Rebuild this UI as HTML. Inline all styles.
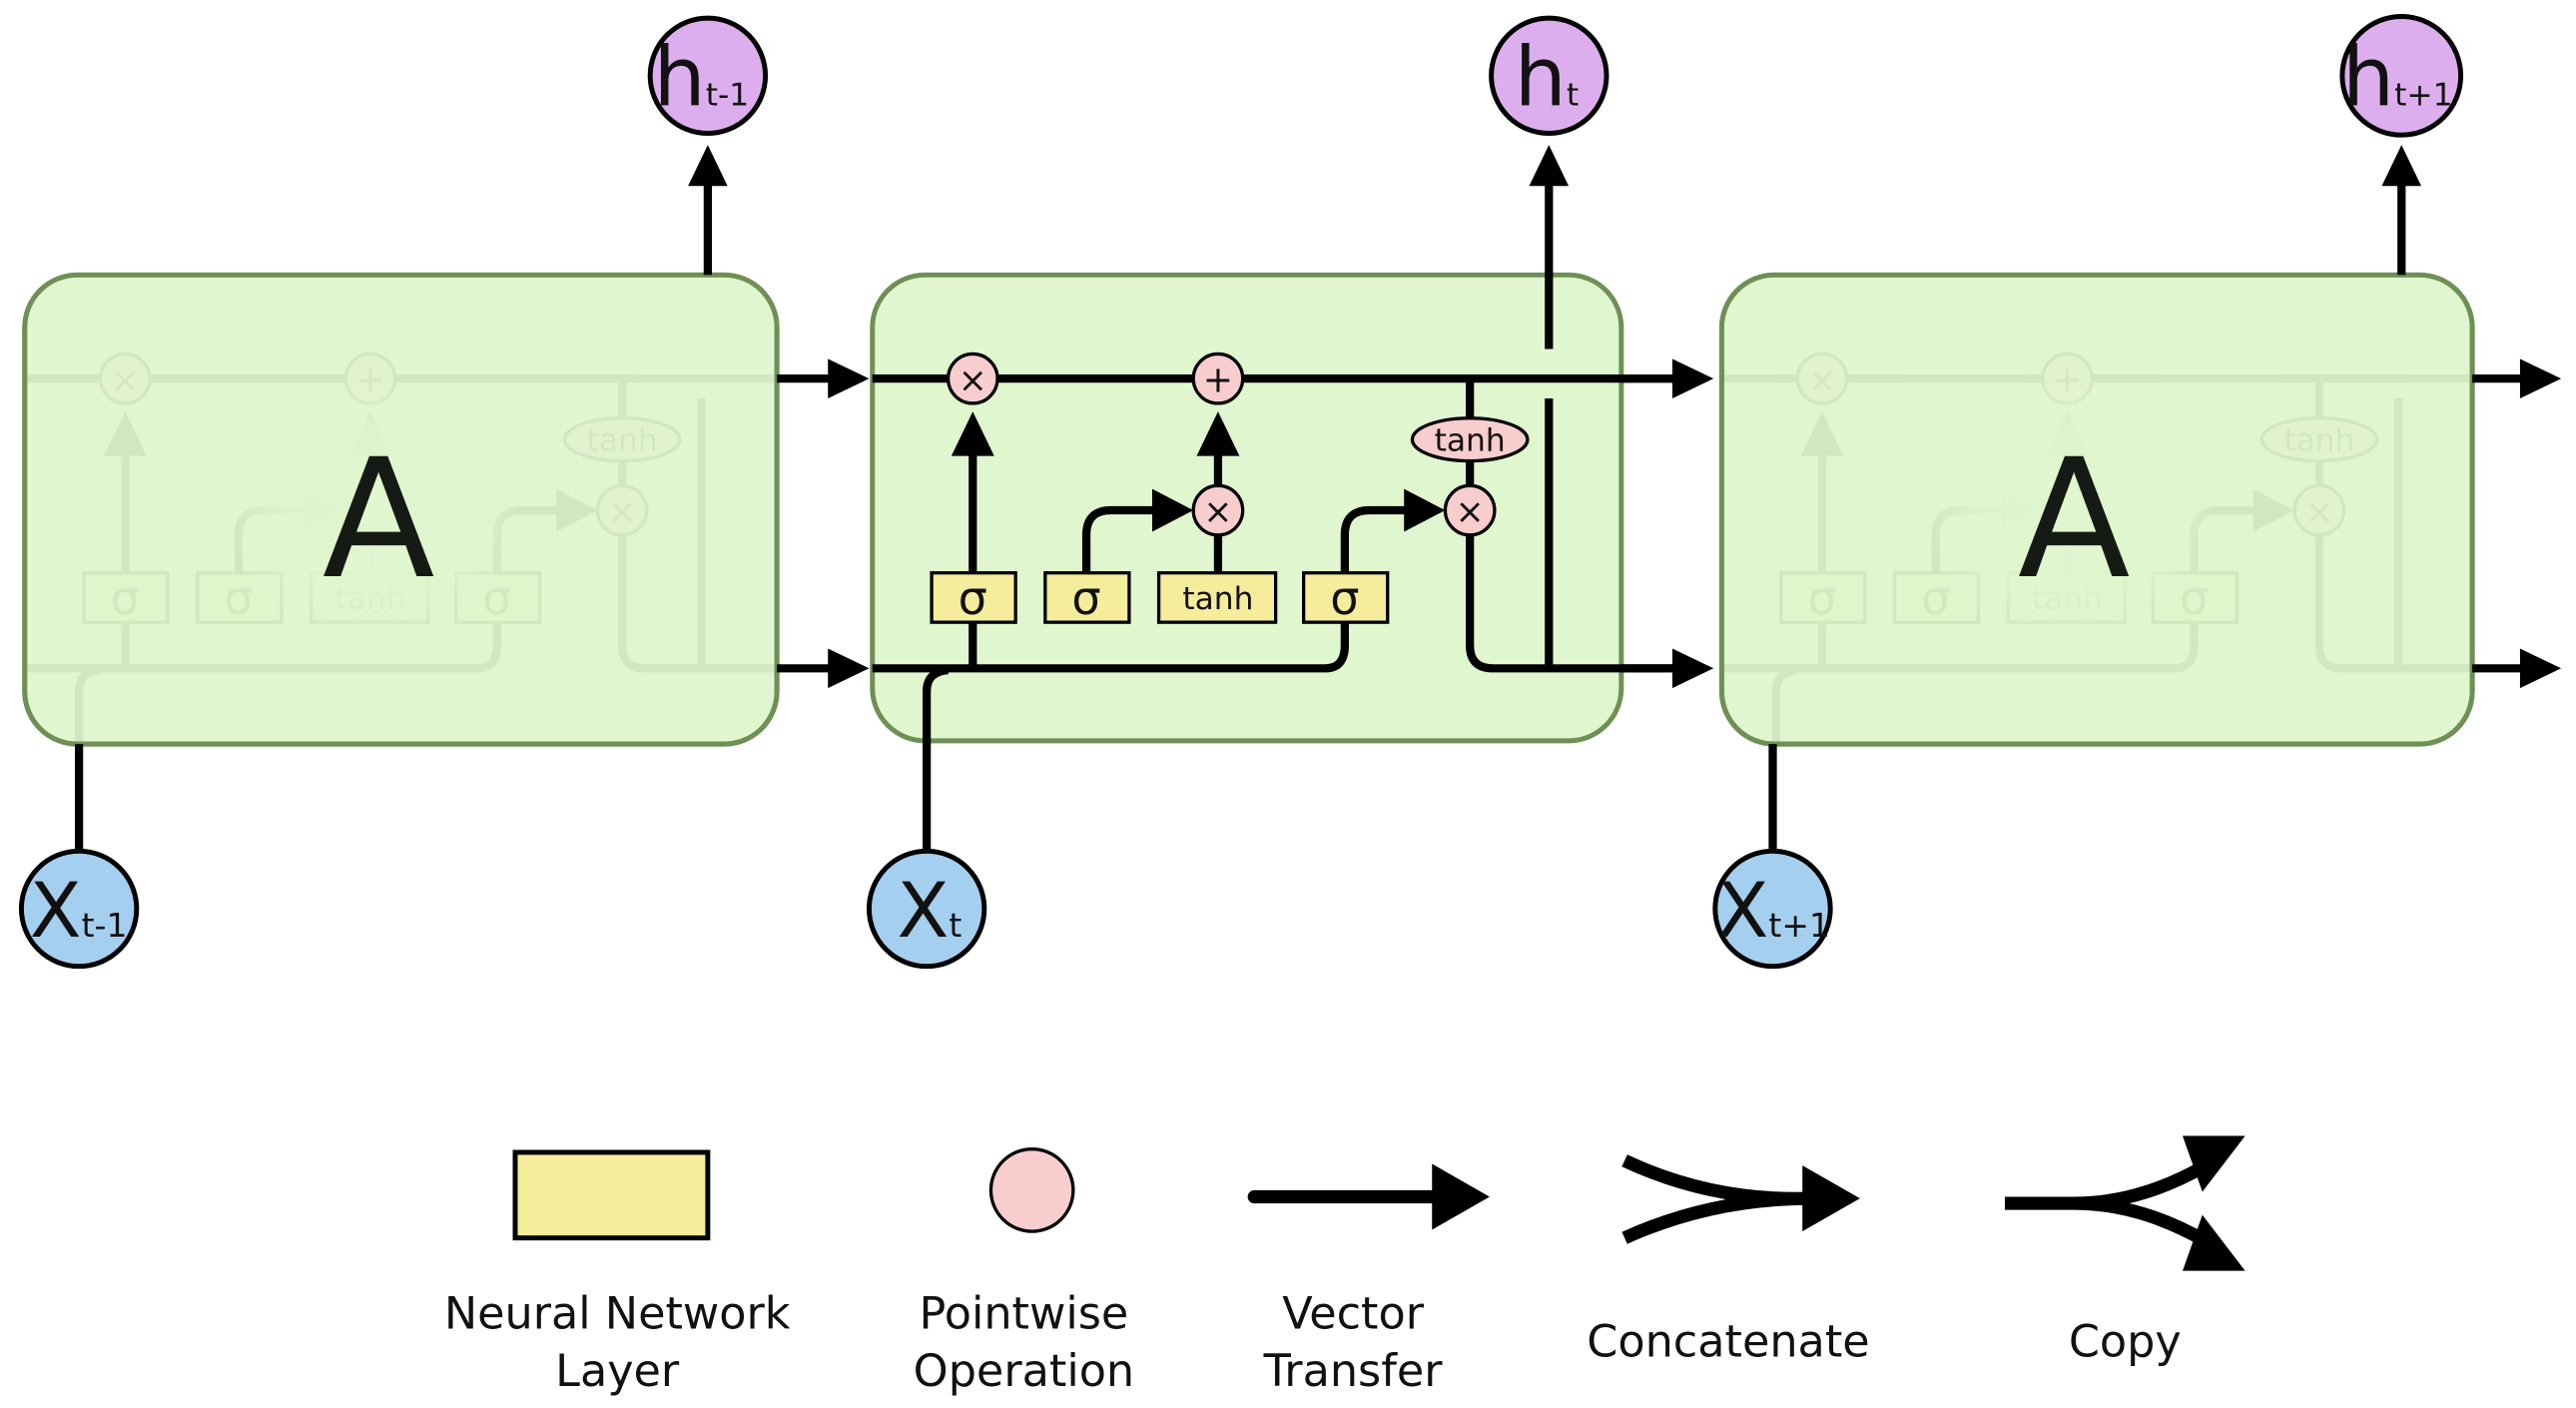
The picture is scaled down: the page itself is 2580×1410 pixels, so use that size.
<!DOCTYPE html>
<html><head><meta charset="utf-8"><style>
html,body{margin:0;padding:0;background:#fff;}
svg{display:block;}
text{font-family:"DejaVu Sans","Liberation Sans",sans-serif;}
</style></head><body>
<svg width="2580" height="1410" viewBox="0 0 1565 855.3" preserveAspectRatio="none" xmlns="http://www.w3.org/2000/svg">
<defs>
<radialGradient id="halo"><stop offset="0" stop-color="#e0f6cf" stop-opacity="1"/><stop offset="0.6" stop-color="#e0f6cf" stop-opacity="0.8"/><stop offset="1" stop-color="#e0f6cf" stop-opacity="0"/></radialGradient>
<g id="cell" stroke="#000" stroke-width="5" fill="none">
  <line x1="530" y1="230" x2="1016" y2="230"/>
  <line x1="591" y1="378" x2="591" y2="275"/>
  <polygon points="578,277 604,277 591,250" fill="#000" stroke="none"/>
  <line x1="740" y1="295" x2="740" y2="275"/>
  <polygon points="727,277 753,277 740,250" fill="#000" stroke="none"/>
  <line x1="740" y1="378" x2="740" y2="325"/>
  <path d="M660 378 V325 Q660 310 675 310 H702"/>
  <polygon points="700,297 700,323 725,310" fill="#000" stroke="none"/>
  <path d="M817 350 V325 Q817 310 832 310 H855"/>
  <polygon points="853,297 853,323 878,310" fill="#000" stroke="none"/>
  <line x1="893" y1="230" x2="893" y2="295"/>
  <path d="M893 325 V392 Q893 406 907 406 H1016"/>
  <line x1="941" y1="406" x2="941" y2="242"/>
  <path d="M530 406 H805 Q817 406 817 392 V378"/>
  <line x1="591" y1="378" x2="591" y2="406"/>
  <path d="M563 452 V420 Q563 408 576 407"/>
  <g stroke-width="2">
    <rect x="566" y="348" width="51" height="30" fill="#f5ec9c"/>
    <rect x="635" y="348" width="51" height="30" fill="#f5ec9c"/>
    <rect x="704" y="348" width="71" height="30" fill="#f5ec9c"/>
    <rect x="792" y="348" width="51" height="30" fill="#f5ec9c"/>
    <circle cx="591" cy="230" r="15" fill="#f8cdcd"/>
    <circle cx="740" cy="230" r="15" fill="#f8cdcd"/>
    <circle cx="740" cy="310" r="15" fill="#f8cdcd"/>
    <circle cx="893" cy="310" r="15" fill="#f8cdcd"/>
    <ellipse cx="893" cy="267" rx="35" ry="13" fill="#f8cdcd"/>
  </g>
  <g fill="#111" stroke="none" text-anchor="middle">
    <text x="591" y="373" font-size="28">σ</text>
    <text x="660" y="373" font-size="28">σ</text>
    <text x="740" y="370" font-size="19">tanh</text>
    <text x="817" y="373" font-size="28">σ</text>
    <text x="893" y="274" font-size="19">tanh</text>
    <text x="591" y="238" font-size="21">×</text>
    <text x="740" y="238" font-size="22">+</text>
    <text x="740" y="318" font-size="21">×</text>
    <text x="893" y="318" font-size="21">×</text>
  </g>
</g>
<g id="ar"><polygon points="0,-12 0,12 25,0" fill="#000"/></g>
</defs>

<rect x="15" y="167" width="457" height="285" rx="32" fill="#e0f6cf" stroke="#6f9055" stroke-width="3"/>
<rect x="530" y="167" width="455" height="283" rx="32" fill="#e0f6cf" stroke="#6f9055" stroke-width="3"/>
<rect x="1046" y="167" width="456" height="285" rx="32" fill="#e0f6cf" stroke="#6f9055" stroke-width="3"/>

<g opacity="0.06" transform="translate(-515,0)"><use href="#cell"/></g>
<g opacity="0.06" transform="translate(516,0)"><use href="#cell"/></g>
<ellipse cx="228" cy="310" rx="90" ry="80" fill="url(#halo)"/>
<ellipse cx="1258" cy="310" rx="90" ry="80" fill="url(#halo)"/>
<rect x="15" y="167" width="457" height="285" rx="32" fill="none" stroke="#6f9055" stroke-width="3"/>
<rect x="1046" y="167" width="456" height="285" rx="32" fill="none" stroke="#6f9055" stroke-width="3"/>

<use href="#cell"/>
<text x="230" y="350" font-size="100" text-anchor="middle" fill="#151a14">A</text>
<text x="1260" y="350" font-size="100" text-anchor="middle" fill="#151a14">A</text>

<g stroke="#000" stroke-width="5">
  <line x1="472" y1="230" x2="507" y2="230"/><line x1="472" y1="406" x2="507" y2="406"/>
  <line x1="985" y1="230" x2="1020" y2="230"/><line x1="985" y1="406" x2="1020" y2="406"/>
  <line x1="1502" y1="230" x2="1535" y2="230"/><line x1="1502" y1="406" x2="1535" y2="406"/>
  <line x1="430" y1="167" x2="430" y2="110"/>
  <line x1="941" y1="212" x2="941" y2="110"/>
  <line x1="1459" y1="167" x2="1459" y2="110"/>
  <line x1="48" y1="518" x2="48" y2="452"/>
  <line x1="563" y1="518" x2="563" y2="450"/>
  <line x1="1077" y1="518" x2="1077" y2="452"/>
</g>
<use href="#ar" transform="translate(503,230)"/><use href="#ar" transform="translate(503,406)"/>
<use href="#ar" transform="translate(1016,230)"/><use href="#ar" transform="translate(1016,406)"/>
<use href="#ar" transform="translate(1531,230)"/><use href="#ar" transform="translate(1531,406)"/>
<use href="#ar" transform="translate(430,113) rotate(-90)"/>
<use href="#ar" transform="translate(941,113) rotate(-90)"/>
<use href="#ar" transform="translate(1459,113) rotate(-90)"/>

<g stroke="#000" stroke-width="3" fill="#ddaeed">
  <circle cx="430" cy="46" r="35"/><circle cx="941" cy="46" r="35"/><circle cx="1459" cy="46" r="36"/>
</g>
<g fill="#111">
  <text x="397" y="64" font-size="50">h<tspan font-size="19">t-1</tspan></text>
  <text x="920" y="64" font-size="50">h<tspan font-size="19">t</tspan></text>
  <text x="1423" y="64" font-size="50">h<tspan font-size="19">t+1</tspan></text>
</g>
<g stroke="#000" stroke-width="3" fill="#a5cfee">
  <circle cx="48" cy="552" r="35"/><circle cx="563" cy="552" r="35"/><circle cx="1077" cy="552" r="35"/>
</g>
<g fill="#111">
  <text x="18" y="569" font-size="46">X<tspan font-size="20">t-1</tspan></text>
  <text x="545" y="569" font-size="46">X<tspan font-size="20">t</tspan></text>
  <text x="1043" y="569" font-size="46">X<tspan font-size="20">t+1</tspan></text>
</g>

<rect x="313" y="700" width="117" height="52" fill="#f5ec9c" stroke="#000" stroke-width="3"/>
<circle cx="627" cy="723" r="25" fill="#f8cdcd" stroke="#000" stroke-width="2"/>
<line x1="762" y1="727" x2="875" y2="727" stroke="#000" stroke-width="8" stroke-linecap="round"/>
<polygon points="870,707 870,747 905,727" fill="#000"/>
<path d="M987 705 Q1040 730 1100 728 M987 752 Q1040 728 1100 728" stroke="#000" stroke-width="8" fill="none"/>
<polygon points="1095,708 1095,748 1130,728" fill="#000"/>
<path d="M1218 731 H1260 Q1300 731 1340 708 M1260 731 Q1300 731 1340 754" stroke="#000" stroke-width="8" fill="none"/>
<polygon points="1326,690 1364,690 1338,724" fill="#000"/>
<polygon points="1326,772 1364,772 1338,738" fill="#000"/>
<g font-size="27" fill="#111" text-anchor="middle">
  <text x="375" y="807">Neural Network</text><text x="375" y="842">Layer</text>
  <text x="622" y="807">Pointwise</text><text x="622" y="842">Operation</text>
  <text x="822" y="807">Vector</text><text x="822" y="842">Transfer</text>
  <text x="1050" y="824">Concatenate</text>
  <text x="1291" y="824">Copy</text>
</g>
</svg>
</body></html>
